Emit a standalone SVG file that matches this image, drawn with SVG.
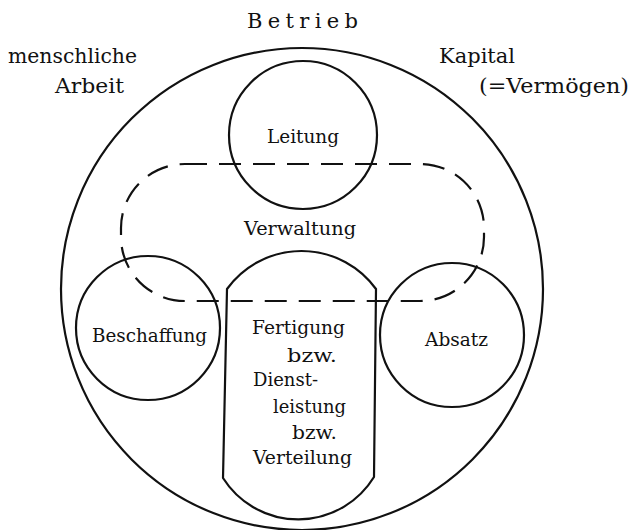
<svg xmlns="http://www.w3.org/2000/svg" width="636" height="530" viewBox="0 0 636 530">
<style>
  .ln { fill: none; stroke: #111; stroke-width: 2.2; }
  .dash { fill: none; stroke: #111; stroke-width: 2.2; stroke-dasharray: 22 12; }
  text { font-family: "DejaVu Serif", "Liberation Serif", serif; fill: #111; }
  .lbl { font-size: 19px; }
  .top { font-size: 21px; }
</style>
<rect width="636" height="530" fill="#fff"/>

<g id="betrieb">
  <circle class="ln" cx="302" cy="289" r="241"/>
  <text class="top" x="247" y="28" font-size="20" textLength="111" lengthAdjust="spacing">Betrieb</text>
</g>

<g id="inputs">
  <text class="top" x="8" y="63" textLength="129" lengthAdjust="spacingAndGlyphs">menschliche</text>
  <text class="top" x="55" y="93" textLength="69" lengthAdjust="spacingAndGlyphs">Arbeit</text>
  <text class="top" x="439" y="63" textLength="76" lengthAdjust="spacingAndGlyphs">Kapital</text>
  <text class="top" x="479" y="93" textLength="150" lengthAdjust="spacingAndGlyphs">(=Vermögen)</text>
</g>

<g id="verwaltung">
  <rect class="dash" x="121" y="164" width="363" height="137" rx="64" ry="64"/>
  <text class="lbl" x="244" y="235" textLength="112" lengthAdjust="spacingAndGlyphs">Verwaltung</text>
</g>

<g id="leitung">
  <circle class="ln" cx="303" cy="135" r="74"/>
  <text class="lbl" x="267" y="143" textLength="72" lengthAdjust="spacingAndGlyphs">Leitung</text>
</g>

<g id="beschaffung">
  <circle class="ln" cx="148" cy="328" r="72"/>
  <text class="lbl" x="92" y="342" textLength="115" lengthAdjust="spacingAndGlyphs">Beschaffung</text>
</g>

<g id="absatz">
  <circle class="ln" cx="452" cy="335" r="72"/>
  <text class="lbl" x="425" y="346" textLength="63" lengthAdjust="spacingAndGlyphs">Absatz</text>
</g>

<g id="fertigung">
  <path class="ln" d="M 227 289 A 92 92 0 0 1 376 289 L 374 477 A 89 89 0 0 1 223 478 Z"/>
  <text class="lbl" x="252" y="334" textLength="93" lengthAdjust="spacingAndGlyphs">Fertigung</text>
  <text class="lbl" x="287" y="362" textLength="50" lengthAdjust="spacingAndGlyphs">bzw.</text>
  <text class="lbl" x="253" y="386" textLength="65" lengthAdjust="spacingAndGlyphs">Dienst-</text>
  <text class="lbl" x="273" y="413" textLength="73" lengthAdjust="spacingAndGlyphs">leistung</text>
  <text class="lbl" x="292" y="439" textLength="45" lengthAdjust="spacingAndGlyphs">bzw.</text>
  <text class="lbl" x="253" y="464" textLength="99" lengthAdjust="spacingAndGlyphs">Verteilung</text>
</g>

<g id="connectors"></g>
</svg>
